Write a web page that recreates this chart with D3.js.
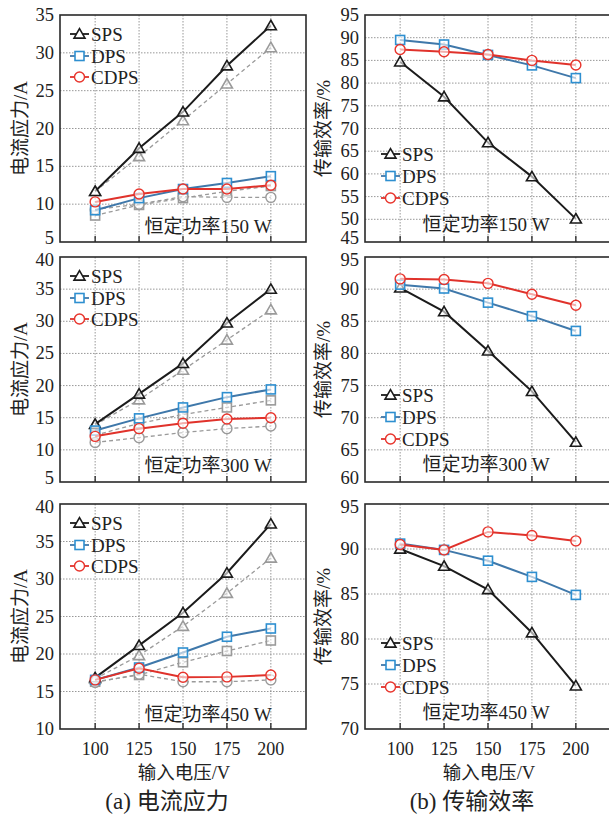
<!DOCTYPE html>
<html lang="zh">
<head>
<meta charset="UTF-8">
<title>电流应力与传输效率</title>
<script src="https://cdn.jsdelivr.net/npm/d3@7"></script>
<style>
    body { margin: 0; background: #fff; }
    svg text { font-family: "Liberation Serif", "Noto Sans CJK SC", serif; fill: #222; }
</style>
</head>
<body>
<svg id="chart" width="609" height="814"></svg>
<script>
// input voltage (V)
const voltages = [100, 125, 150, 175, 200];
const seriesNames = ["SPS", "DPS", "CDPS"];

// current stress (A) -- solid lines, plus grey dashed comparison lines
const stress150 = [[11.7, 17.4, 22.2, 28.3, 33.6], [9.2, 10.8, 12.0, 12.8, 13.7], [10.3, 11.35, 12.0, 12.0, 12.5]];
const stress150Dash = [[11.7, 16.3, 21.05, 25.9, 30.7], [8.5, 9.9, 10.8, 11.7, 12.4], [9.3, 10.0, 11.0, 10.9, 10.9]];
const stress300 = [[14.0, 18.7, 23.45, 29.75, 35.0], [13.0, 14.9, 16.6, 18.2, 19.4], [12.1, 13.3, 14.15, 14.8, 15.0]];
const stress300Dash = [[13.9, 17.8, 22.4, 27.1, 31.8], [12.3, 14.1, 15.5, 16.6, 17.7], [11.15, 11.9, 12.7, 13.3, 13.7]];
const stress450 = [[16.85, 21.15, 25.5, 30.8, 37.35], [16.55, 18.2, 20.2, 22.3, 23.4], [16.55, 18.1, 16.9, 16.95, 17.2]];
const stress450Dash = [[16.7, 19.8, 23.7, 28.1, 32.8], [16.3, 17.2, 18.9, 20.4, 21.8], [16.2, 17.3, 16.3, 16.3, 16.55]];

// transfer efficiency (%)
const eff150 = [[84.7, 77.0, 66.9, 59.4, 50.1], [89.5, 88.5, 86.2, 83.9, 81.1], [87.4, 86.9, 86.3, 85.0, 84.0]];
const eff300 = [[90.2, 86.5, 80.4, 74.1, 66.2], [90.7, 90.1, 87.9, 85.8, 83.5], [91.6, 91.5, 90.9, 89.2, 87.5]];
const eff450 = [[90.0, 88.1, 85.5, 80.7, 74.8], [90.6, 89.9, 88.7, 86.9, 84.9], [90.5, 89.9, 91.9, 91.5, 90.9]];

// y tick labels per panel
const stressTicks150 = [5, 10, 15, 20, 25, 30, 35];
const stressTicks300 = [5, 10, 15, 20, 25, 30, 35, 40];
const stressTicks450 = [10, 15, 20, 25, 30, 35, 40];
const effTicks150 = [45, 50, 55, 60, 65, 70, 75, 80, 85, 90, 95];
const effTicks300 = [60, 65, 70, 75, 80, 85, 90, 95];
const effTicks450 = [70, 75, 80, 85, 90, 95];

const powers = ["150", "300", "450"];

const colors = { SPS: "#1b1b1b", DPS: "#3f78aa", CDPS: "#e0322b" };
const markerColors = { SPS: "#1b1b1b", DPS: "#2e8fd0", CDPS: "#e8342c" };
const grey = "#9a9a9a";

const svg = d3.select("#chart");

const cols = [
    { x0: 60, yLabel: "电流应力/A", labelX: 20, caption: "(a) 电流应力", capX: 167 },
    { x0: 365, yLabel: "传输效率/%", labelX: 323, caption: "(b) 传输效率", capX: 472 }
];
const rows = [{ top: 15, bottom: 242 }, { top: 257, bottom: 482 }, { top: 504, bottom: 729 }];
const plotW = 246;

const panels = [
    { col: 0, row: 0, ticks: stressTicks150, data: stress150, dash: stress150Dash },
    { col: 0, row: 1, ticks: stressTicks300, data: stress300, dash: stress300Dash },
    { col: 0, row: 2, ticks: stressTicks450, data: stress450, dash: stress450Dash },
    { col: 1, row: 0, ticks: effTicks150, data: eff150, dash: null, legendY: [154, 176, 198] },
    { col: 1, row: 1, ticks: effTicks300, data: eff300, dash: null, legendY: [395, 417, 439] },
    { col: 1, row: 2, ticks: effTicks450, data: eff450, dash: null, legendY: [643, 665, 687] }
];
const noteY = [[233, 472, 721], [231, 471, 719]];
const noteX = [208, 486];

function marker(g, name, x, y, stroke, fill) {
    if (name === "SPS") {
        g.append("path")
            .attr("d", d3.symbol(d3.symbolTriangle, 52)())
            .attr("transform", `translate(${x},${y + 1})`)
            .attr("fill", fill).attr("stroke", stroke).attr("stroke-width", 1.6);
    } else if (name === "DPS") {
        g.append("rect")
            .attr("x", x - 4.5).attr("y", y - 4.5).attr("width", 9).attr("height", 9)
            .attr("fill", fill).attr("stroke", stroke).attr("stroke-width", 1.6);
    } else {
        g.append("circle")
            .attr("cx", x).attr("cy", y).attr("r", 5)
            .attr("fill", fill).attr("stroke", stroke).attr("stroke-width", 1.4);
    }
}

panels.forEach((p) => {
    const c = cols[p.col];
    const r = rows[p.row];
    const x = d3.scaleLinear().domain([80, 220]).range([c.x0, c.x0 + plotW]);
    const y = d3.scaleLinear().domain(d3.extent(p.ticks)).range([r.bottom, r.top]);
    const g = svg.append("g");

    // grid
    g.append("g").selectAll("line").data(p.ticks.slice(1, -1)).join("line")
        .attr("x1", c.x0).attr("x2", c.x0 + plotW)
        .attr("y1", d => y(d)).attr("y2", d => y(d))
        .attr("stroke", "#8c8c8c").attr("stroke-width", 0.9).attr("stroke-dasharray", "1.5,1.5");
    g.append("g").selectAll("line").data(voltages).join("line")
        .attr("x1", d => x(d)).attr("x2", d => x(d))
        .attr("y1", r.top).attr("y2", r.bottom)
        .attr("stroke", "#8c8c8c").attr("stroke-width", 0.9).attr("stroke-dasharray", "1.5,1.5");

    // x ticks (inward)
    g.append("g").selectAll("line").data(voltages).join("line")
        .attr("x1", d => x(d)).attr("x2", d => x(d))
        .attr("y1", r.bottom).attr("y2", r.bottom - 6)
        .attr("stroke", "#222").attr("stroke-width", 1.3);

    // y tick labels (end labels nudged so stacked panels do not collide)
    const lo = p.ticks[0], hi = p.ticks[p.ticks.length - 1];
    g.append("g").selectAll("text").data(p.ticks).join("text")
        .attr("x", c.x0 - 6)
        .attr("y", d => y(d) + (d === lo && p.row < 2 ? 2 : d === hi && p.row > 0 ? 9 : 6))
        .attr("text-anchor", "end").attr("font-size", 18.5)
        .text(d => d);

    const line = d3.line().x((d, i) => x(voltages[i])).y(d => y(d));

    // grey dashed comparison curves
    if (p.dash) {
        p.dash.forEach((vals, si) => {
            g.append("path").datum(vals).attr("d", line)
                .attr("fill", "none").attr("stroke", grey)
                .attr("stroke-width", 1.3).attr("stroke-dasharray", "4,3");
            vals.forEach((v, i) => marker(g, seriesNames[si], x(voltages[i]), y(v), grey, "rgba(255,255,255,0.5)"));
        });
    }

    // main curves
    p.data.forEach((vals, si) => {
        const name = seriesNames[si];
        g.append("path").datum(vals).attr("d", line)
            .attr("fill", "none").attr("stroke", colors[name]).attr("stroke-width", 2);
        vals.forEach((v, i) => marker(g, name, x(voltages[i]), y(v), markerColors[name], "rgba(255,255,255,0.6)"));
    });

    // frame
    g.append("rect")
        .attr("x", c.x0).attr("y", r.top).attr("width", plotW).attr("height", r.bottom - r.top)
        .attr("fill", "none").attr("stroke", "#2a2a2a").attr("stroke-width", 1.6);

    // legend
    const lx = p.col === 0 ? 70 : 381;
    const ly = p.legendY || [r.top + 19, r.top + 41, r.top + 62];
    seriesNames.forEach((name, si) => {
        g.append("line")
            .attr("x1", lx).attr("x2", lx + 19).attr("y1", ly[si]).attr("y2", ly[si])
            .attr("stroke", colors[name]).attr("stroke-width", 1.8);
        marker(g, name, lx + 9.5, ly[si], markerColors[name], "#fff");
        g.append("text")
            .attr("x", lx + 21).attr("y", ly[si] + 6.5)
            .attr("font-size", 19).text(name);
    });

    // annotation
    g.append("text")
        .attr("x", noteX[p.col]).attr("y", noteY[p.col][p.row])
        .attr("text-anchor", "middle").attr("font-size", 19)
        .text(`恒定功率${powers[p.row]} W`);

    // y label
    g.append("text")
        .attr("transform", `translate(${c.labelX + 7},${(r.top + r.bottom) / 2}) rotate(-90)`)
        .attr("text-anchor", "middle").attr("font-size", 19)
        .text(c.yLabel);

    // bottom row: x tick labels + titles
    if (p.row === 2) {
        g.append("g").selectAll("text").data(voltages).join("text")
            .attr("x", d => x(d)).attr("y", r.bottom + 26)
            .attr("text-anchor", "middle").attr("font-size", 18)
            .text(d => d);
        g.append("text")
            .attr("x", c.x0 + plotW / 2 + 1).attr("y", r.bottom + 50)
            .attr("text-anchor", "middle").attr("font-size", 18.5)
            .text("输入电压/V");
        g.append("text")
            .attr("x", c.capX).attr("y", r.bottom + 80)
            .attr("text-anchor", "middle").attr("font-size", 23)
            .text(c.caption);
    }
});
</script>
</body>
</html>
